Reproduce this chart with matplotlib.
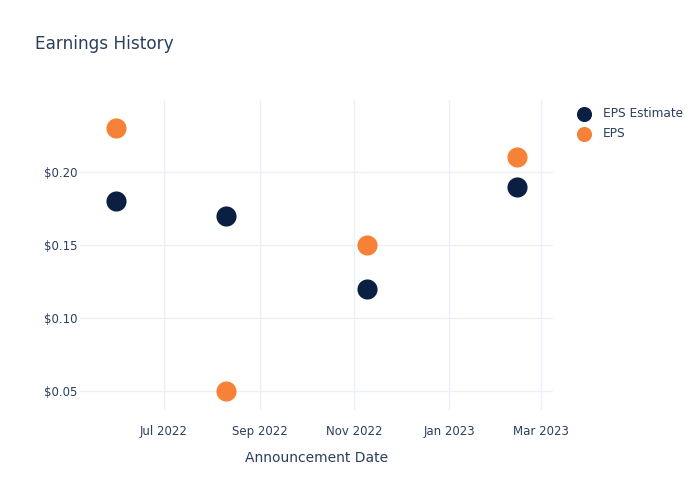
import matplotlib.pyplot as plt
import matplotlib.dates as mdates
import numpy as np
from matplotlib.ticker import FuncFormatter

# Earnings data
dates = np.array(['2022-05-31', '2022-08-10', '2022-11-09', '2023-02-14'], dtype='datetime64[D]')
eps_estimate = [0.18, 0.17, 0.12, 0.19]
eps_actual = [0.23, 0.05, 0.15, 0.21]
y_ticks = [0.05, 0.10, 0.15, 0.20]
x_ticks = np.array(['2022-07-01', '2022-09-01', '2022-11-01', '2023-01-01', '2023-03-01'], dtype='datetime64[D]')

text_color = '#2a3f5f'
grid_color = '#ebf0f8'

fig = plt.figure(figsize=(7, 5), dpi=100)
ax = fig.add_axes([80/700, 1 - 410/500, (553 - 80)/700, 310/500])

ax.scatter(dates, eps_estimate, s=210, color='#0b1f42', label='EPS Estimate', zorder=3, linewidths=0)
ax.scatter(dates, eps_actual, s=210, color='#f58237', label='EPS', zorder=3, linewidths=0)

ax.set_xlim(np.datetime64('2022-05-08'), np.datetime64('2023-03-09'))
ax.set_ylim(0.037, 0.2493)

ax.set_xticks(x_ticks)
ax.xaxis.set_major_formatter(mdates.DateFormatter('%b %Y'))
ax.set_yticks(y_ticks)
ax.yaxis.set_major_formatter(FuncFormatter(lambda v, p: f'${v:.2f}'))

ax.grid(True, color=grid_color, linewidth=1)
ax.set_axisbelow(True)
for s in ax.spines.values():
    s.set_visible(False)
ax.tick_params(length=0, colors=text_color, labelsize=8.5)
ax.tick_params(axis='x', pad=11)
ax.tick_params(axis='y', pad=2)

ax.set_xlabel('Announcement Date', color=text_color, fontsize=10, labelpad=9)
fig.text(35/700, 1 - 44/500, 'Earnings History', color=text_color, fontsize=12.2, va='center')

leg = fig.legend(loc='upper left', bbox_to_anchor=(567/700, 1 - 102/500), frameon=False,
                 fontsize=8.7, labelcolor=text_color, handletextpad=0.55, labelspacing=0.6,
                 markerscale=0.75, borderaxespad=0)

plt.savefig('out.png')
